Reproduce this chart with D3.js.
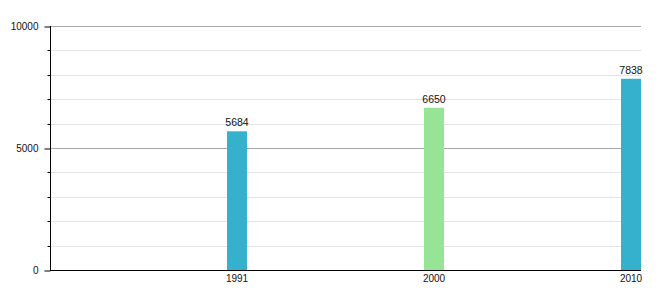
<!DOCTYPE html>
<html><head><meta charset="utf-8">
<script src="https://cdn.jsdelivr.net/npm/d3@7"></script>
<style>body{margin:0;background:#fff;}svg{display:block;font-family:"Liberation Sans",Arial,sans-serif;}</style>
</head><body>
<svg id="c" width="660" height="300"></svg>
<script>
const categories = ["1991", "2000", "2010"];
const values = [5684, 6650, 7838];
const barColors = ["#35b1cd", "#98e496", "#35b1cd"];
const majorTicks = [0, 5000, 10000];
const minorTicks = [1000, 2000, 3000, 4000, 6000, 7000, 8000, 9000];

const svg = d3.select("#c");
const mLeft = 50, mRight = 641, mTop = 26, mBottom = 270;
const x = d3.scaleBand().domain(categories).range([mLeft, mRight]);
const y = d3.scaleLinear().domain([0, 10000]).range([mBottom, mTop]);
const barW = 20;

// grid
svg.append("g").selectAll("line").data(minorTicks).join("line")
  .attr("x1", mLeft).attr("x2", mRight)
  .attr("y1", d => Math.round(y(d)) + 0.5).attr("y2", d => Math.round(y(d)) + 0.5)
  .attr("stroke", "#e4e4e4");
svg.append("g").selectAll("line").data(majorTicks.filter(d => d > 0)).join("line")
  .attr("x1", mLeft).attr("x2", mRight)
  .attr("y1", d => Math.round(y(d)) + 0.5).attr("y2", d => Math.round(y(d)) + 0.5)
  .attr("stroke", "#a8a8a8");

// bars
const bx = d => x(d) + x.bandwidth() - barW;
svg.append("g").selectAll("rect").data(categories).join("rect")
  .attr("x", d => bx(d)).attr("width", barW)
  .attr("y", (d, i) => y(values[i])).attr("height", (d, i) => mBottom - y(values[i]))
  .attr("fill", (d, i) => barColors[i]);

// value labels
svg.append("g").selectAll("text").data(categories).join("text")
  .attr("x", d => bx(d) + barW / 2).attr("y", (d, i) => y(values[i]) - 5)
  .attr("text-anchor", "middle").attr("font-size", 10.5).attr("fill", "#111")
  .text((d, i) => values[i]);

// y axis
const yAxis = d3.axisLeft(y).tickValues(majorTicks).tickSize(6).tickPadding(6).tickFormat(d3.format("d"));
const gy = svg.append("g").attr("transform", `translate(${mLeft + 0.5},0.5)`).call(yAxis);
gy.select(".domain").remove();
gy.selectAll("text").attr("font-size", 10).attr("fill", "#111").attr("font-family", "Liberation Sans, Arial, sans-serif");
gy.selectAll("line").attr("stroke", "#000");
svg.append("g").selectAll("line").data(minorTicks).join("line")
  .attr("x1", mLeft - 2.5).attr("x2", mLeft)
  .attr("y1", d => Math.round(y(d)) + 0.5).attr("y2", d => Math.round(y(d)) + 0.5)
  .attr("stroke", "#000");
svg.append("line").attr("x1", mLeft + 0.5).attr("x2", mLeft + 0.5).attr("y1", mTop).attr("y2", mBottom + 0.5).attr("stroke", "#000");

// x axis
svg.append("line").attr("x1", mLeft).attr("x2", mRight).attr("y1", mBottom + 0.5).attr("y2", mBottom + 0.5).attr("stroke", "#000");
svg.append("g").selectAll("text").data(categories).join("text")
  .attr("x", d => bx(d) + barW / 2).attr("y", 282)
  .attr("text-anchor", "middle").attr("font-size", 10).attr("fill", "#111")
  .text(d => d);
</script>
</body></html>
